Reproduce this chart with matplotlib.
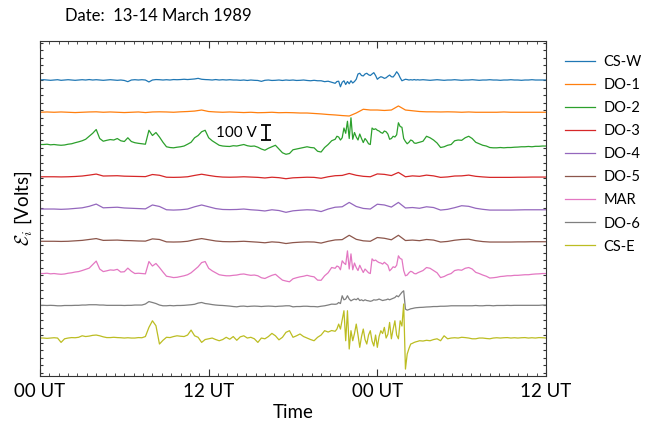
import numpy as np
import matplotlib.pyplot as plt
from matplotlib.ticker import MultipleLocator

plt.rcParams['font.family'] = ['Lato', 'DejaVu Sans']
plt.rcParams['mathtext.fontset'] = 'cm'

# time axis in hours from 00 UT on 13 March (finer sampling during the storm)
hours = np.concatenate([np.arange(0, 21, 0.25),
                        np.arange(21, 27, 0.125),
                        np.arange(27, 36.01, 0.25)])
hours_q = np.arange(0, 36.01, 0.5)

stations = ['CS-W', 'DO-1', 'DO-2', 'DO-3', 'DO-4', 'DO-5', 'MAR', 'DO-6', 'CS-E']
tick_labels = ['00 UT', '12 UT', '00 UT', '12 UT']

# induced voltages [V], relative to each trace's own baseline
cs_w = [0, 2, 0, -2, 0, 2, -2, 0,
        2, 0, -2, 0, 2, 0, 3, 0,
        2, 0, -2, 0, 2, 0, -2, 0,
        -3, -11, 0, 2, 0, 2, 0, -13,
        0, 3, 2, 0, 2, 0, 3, 2,
        3, 5, 3, 5, 7, 11, 5, 3,
        2, 0, 3, 0, 2, 0, 2, 0,
        0, -2, 0, -3, 0, -2, -3, -9,
        -2, 0, -3, -2, 0, -3, 0, -2,
        0, -3, -2, 0, -3, -5, -2, -5,
        -5, -11, -8, -15,
        -22, -10, -8, -45, -15, -5, -30, -10,
        -25, -5, -20, -10, 5, 40, 45, 30,
        27, 40, 45, 35, 30, 40, 49, 30,
        5, 15, 22, 18, 11, 15, 25, 33,
        22, 20, 35, 55, 40, 15, -5, 0,
        5, 3, 0, 2, 0, 3, 0, 2,
        0, 2, 0, -2, 0, 2, 0, -2,
        0, 0, 2, 0, -2, 0, 0, 2,
        0, -2, 0, 0, 2, 0, 0, -2,
        0, 0, 2, 0, 0, -2, 0, 0,
        2, 0, 0, 0, 0]

do_1 = [0, 2, 0, 2, 0, -2, 0, 2,
        3, 0, 2, 0, -2, 0, 2, -2,
        2, 3, 2, 0, 3, 5, 8, 15,
        5, 2, 0, 2, 0, -2, 0, -3,
        -2, 0, -3, -2, -3, -5, -5, -8,
        -11, -15, -18, -22, -25, -5, 20, 15,
        15, 12, 15, 42, 15, 10, 5, 3,
        3, 2, 3, 2, 0, 2, 0, 0,
        0, 0, 2, 0, 0, 0, 0, 0,
        0]

do_2 = [0, 0, 2, -2, 0, -3, -5, -3,
        2, 5, 12, 18, 25, 35, 55, 75,
        100, 40, 22, 28, 33, 30, 40, 25,
        20, 45, 20, 12, 8, 5, 2, 95,
        60, 80, 50, 15, -15, -20, -22, -18,
        -15, -10, 2, 15, 45, 60, 85, 95,
        45, 25, 10, -5, -10, -12, -13, -8,
        -10, -5, 0, -8, -12, -10, -18, -30,
        -38, -25, -15, -5, -30, -55, -65, -60,
        -35, -30, -25, -20, -15, -20, -22, -45,
        -50, -20, 0, 25,
        35, 55, 50, 30, 45, 110, 75, 155,
        40, 178, 35, 80, 50, 30, 70, 40,
        13, 40, 25, 5, 0, 110, 100, 105,
        95, 90, 80, 75, 90, 85, 70, 35,
        40, 55, 50, 65, 145, 120, 115, 40,
        20, 5, 15, 30, 25, 10, 8, 12,
        15, 22, 55, 45, 30, 10, -20, -15,
        -5, 0, 25, 30, 28, 45, 55, 40,
        15, 5, -5, -10, -20, -22, -22, -20,
        -22, -20, -20, -18, -17, -15, -15, -13,
        -15, -12, -12, -10, -10]

do_3 = [0, 0, 0, -1, 0, 2, 5, 11,
        18, 5, 6, 7, 4, 3, 2, 1,
        15, 10, -3, -4, -3, 0, 9, 17,
        9, 2, -2, -3, -2, 0, -2, -4,
        -8, -3, -6, -13, -7, -5, -3, -4,
        -10, 0, 7, 9, 22, 10, 3, 0,
        19, 16, 8, 29, 0, 6, 3, 11,
        6, -4, -1, 5, 6, 11, 3, -1,
        -4, -4, -4, -4, -3, -3, -2, -2,
        -2]

do_4 = [0, 0, 0, -2, 0, 4, 8, 18,
        33, 8, 10, 12, 7, 5, 3, 1,
        27, 17, -5, -7, -5, 0, 15, 27,
        15, 3, -3, -4, -3, 0, -5, -8,
        -13, -5, -10, -22, -12, -8, -5, -7,
        -17, 0, 12, 15, 44, 17, 4, 0,
        32, 27, 13, 44, 7, 10, 5, 15,
        10, -7, -2, 9, 22, 18, 5, -2,
        -7, -7, -7, -7, -6, -5, -5, -5,
        -5]

do_5 = [0, 0, 0, -1, 0, 3, 6, 12,
        18, 6, 7, 8, 5, 4, 2, 1,
        16, 12, -4, -5, -4, 0, 10, 18,
        10, 2, -2, -3, -2, 0, -3, -6,
        -10, -4, -7, -15, -9, -6, -4, -5,
        -12, 0, 9, 11, 40, 13, 3, 0,
        25, 20, 10, 40, 5, 8, 4, 12,
        8, -5, -1, 7, 12, 14, 4, -2,
        -5, -5, -5, -5, -4, -4, -3, -3,
        -3]

mar = [0, 0, 2, -2, 0, -3, -5, -3,
       2, 5, 10, 13, 20, 28, 36, 60,
       83, 30, 13, 18, 24, 22, 28, 10,
       12, 36, 15, 0, 2, 0, -2, 80,
       50, 67, 40, 10, -18, -22, -27, -25,
       -20, -15, -8, 5, 25, 45, 73, 80,
       35, 18, 5, -8, -12, -15, -15, -12,
       -10, -5, -3, -8, -12, -10, -15, -28,
       -33, -22, -12, -5, -25, -44, -50, -55,
       -35, -28, -22, -18, -12, -18, -22, -44,
       -45, -15, 5, 40,
       35, 50, 45, 25, 85, 70, 60, 151,
       30, 131, 25, 70, 40, 20, 55, 30,
       7, 30, 18, 5, 0, 98, 85, 90,
       80, 73, 70, 63, 75, 65, 55, 18,
       30, 45, 40, 55, 118, 100, 95, 20,
       -15, -10, 5, 15, 10, 0, -2, 5,
       10, 20, 40, 35, 20, 5, -27, -20,
       -8, 0, 20, 25, 22, 35, 40, 30,
       8, 0, -10, -18, -30, -28, -25, -20,
       -18, -15, -15, -12, -12, -10, -8, -8,
       -5, -3, -2, 0, 0]

do_6 = [3, 3, 2, 3, 2, 0, 0, 2,
        2, 2, 3, 3, 5, 5, 7, 7,
        7, 5, 5, 3, 3, 3, 3, 3,
        2, 3, 3, 5, 5, 5, 12, 28,
        22, 15, 5, 0, 0, 2, 0, 2,
        2, 3, 5, 7, 10, 18, 22, 15,
        12, 8, 5, 3, 2, 0, -2, -5,
        -7, -3, -2, -5, -3, -2, -3, -5,
        -3, -2, -3, -5, -3, -2, 0, 0,
        -7, -5, -5, -3, -3, -5, -5, -7,
        -3, 0, 5, 11,
        10, 12, 22, 15, 67, 40, 45, 67,
        45, 33, 40, 45, 40, 50, 35, 40,
        33, 40, 35, 33, 30, 33, 40, 38,
        40, 45, 40, 35, 38, 40, 45, 40,
        45, 50, 55, 67, 60, 75, 90, 100,
        -22, -29, -25, -20, -18, -15, -13, -12,
        -11, -10, -8, -7, -5, -5, -3, -3,
        -2, 0, 0, 0, 0, 0, 0, 0,
        2, 0, 0, 2, 2, 0, 2, 2,
        2, 3, 2, 3, 3, 3, 3, 3,
        3, 3, 3, 5, 5]

cs_e = [0, 0, -2, 0, 2, 0, -29, -5,
        0, 3, 2, 5, 15, 10, 13, 18,
        20, 15, 8, 3, 3, 5, 3, 2,
        0, 2, 0, 0, 3, 2, 10, 71,
        115, 82, -40, -15, 5, 3, 10, 15,
        12, 10, 20, 53, 15, 5, -29, -10,
        -5, 0, -10, -18, -10, 5, -8, 10,
        -15, 8, 15, 0, 5, -5, -29, 0,
        -5, 10, 31, 15, -12, 5, 38, 49,
        5, 15, 27, 10, 0, -10, -18, 5,
        20, 49, 40, 50,
        45, 60, 93, 60, 120, 182, -18, 182,
        -73, 49, -18, 30, 93, 20, -62, 10,
        60, -10, -40, 20, 49, -20, -53, 20,
        -62, 10, 49, 30, 71, 0, 25, 104,
        -5, 60, 115, 20, -5, 115, 80, 227,
        -207, -107, -70, -40, -35, -29, -25, -22,
        -18, -20, -15, -18, -10, -5, -18, 15,
        -5, 0, 2, 0, 5, 3, 0, -5,
        -5, 0, 0, -3, -5, 0, 2, 0,
        2, 3, 0, 2, 0, 2, 3, 0,
        2, 0, 3, 2, 0]

series = [(hours, cs_w), (hours_q, do_1), (hours, do_2), (hours_q, do_3),
          (hours_q, do_4), (hours_q, do_5), (hours, mar), (hours, do_6),
          (hours, cs_e)]

fig = plt.figure(figsize=(6.46, 4.21), dpi=100)
ax = fig.add_axes([0.0619, 0.1069, 0.7833, 0.7957])

spacing = 215  # vertical offset between traces [V]
for k, (name, (t, v)) in enumerate(zip(stations, series)):
    ax.plot(t, np.array(v) - spacing * k, color=f'C{k}', lw=0.9, label=name)

# 100 V scale bar
ax.errorbar([16.1], [-350], yerr=[50], color='black', lw=1.3, capsize=3.5,
            capthick=1.3)
ax.text(12.5, -350, '100 V', fontsize=11, va='center', ha='left')

ax.set_xlim(0, 36)
ax.set_ylim(-1973, 260)
ax.set_xticks([0, 12, 24, 36])
ax.set_xticklabels(tick_labels, fontsize=13.5)
ax.xaxis.set_minor_locator(MultipleLocator(2 / 3))
ax.yaxis.set_major_locator(MultipleLocator(50))
ax.tick_params(labelleft=False)
ax.tick_params(which='both', direction='in', top=True, right=True,
               color='#333333')
ax.tick_params(axis='x', which='major', length=5, pad=5)
ax.tick_params(axis='x', which='minor', length=2.5)
ax.tick_params(axis='y', which='major', length=2.5)
for s in ax.spines.values():
    s.set_color('#333333')

ax.set_xlabel('Time', fontsize=13.5, labelpad=3)
ax.set_ylabel(r'$\mathcal{E}_i$ [Volts]', fontsize=13.5)
fig.text(0.1006, 0.962, 'Date:  13-14 March 1989', fontsize=12,
         ha='left', va='center')

ax.legend(loc='upper left', bbox_to_anchor=(1.027, 0.975), frameon=False,
          fontsize=10.5, handlelength=2.0, labelspacing=0.62,
          handletextpad=0.6, borderaxespad=0)

fig.savefig('out.png', dpi=100)
